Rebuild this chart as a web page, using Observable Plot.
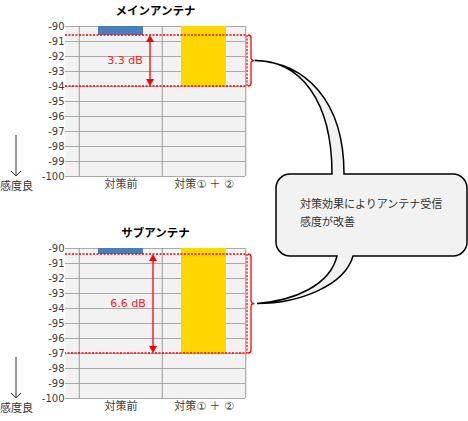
<!DOCTYPE html>
<html><head><meta charset="utf-8">
<script src="https://cdn.jsdelivr.net/npm/d3@7"></script>
<script src="https://cdn.jsdelivr.net/npm/@observablehq/plot@0.6"></script>
<style>
html,body{margin:0;padding:0;background:#fff;}
#wrap{position:relative;width:468px;height:421px;overflow:hidden;}
#wrap svg{position:absolute;left:0;}
</style></head><body><div id="wrap"></div>
<script>
// ---- data ----
const categories = ["対策前", "対策① ＋ ②"];
const panelTitles = ["メインアンテナ", "サブアンテナ"];
const mainValues = [-90.6, -94.0];
const subValues = [-90.4, -97.0];
const gainLabels = ["3.3 dB", "6.6 dB"];
const yTicks = [-90, -91, -92, -93, -94, -95, -96, -97, -98, -99, -100];
const yDomain = [-100, -90];
const barBase = -90;
const barColors = ["#4a7ebb", "#ffd700"];
const sensLabel = "感度良";
const calloutLines = ["対策効果によりアンテナ受信", "感度が改善"];

// ---- layout ----
const FONT = "'DejaVu Sans','Noto Sans CJK JP',sans-serif";
const panelTops = [0, 222];
const arrowOffsets = [7, 10];
const wrap = document.getElementById("wrap");

function panel(title, values) {
  const data = categories.map((c, i) => ({cat: c, value: values[i]}));
  const step = 83.5;
  return Plot.plot({
    width: 468, height: 196,
    marginTop: 26, marginBottom: 20, marginLeft: 65, marginRight: 223,
    style: {fontFamily: FONT, fontSize: "11px", color: "#404040", background: "none", overflow: "visible"},
    x: {domain: categories, range: [78, 245], paddingInner: 0.46, paddingOuter: 0.23},
    y: {domain: yDomain},
    color: {domain: categories, range: barColors},
    marks: [
      Plot.frame({fill: "#f2f2f2", stroke: null}),
      Plot.ruleY(yTicks, {stroke: "#aaa", strokeWidth: 1}),
      Plot.ruleX(categories, {x: d => d, dx: -step / 2, stroke: "#999"}),
      Plot.ruleX([categories[categories.length - 1]], {x: d => d, dx: step / 2, stroke: "#999"}),
      Plot.barY(data, {x: "cat", y1: barBase, y2: "value", fill: "cat"}),
      Plot.axisY({ticks: yTicks, tickSize: 0, tickPadding: 1, fontSize: 10, label: null, tickFormat: d => String(d)}),
      Plot.axisX({tickSize: 0, tickPadding: 4, fontSize: 11, label: null}),
      Plot.text([title], {frameAnchor: "top", dy: -20, fontWeight: "bold", fill: "#000", fontSize: 11.5})
    ]
  });
}

const plots = panelTitles.map((t, i) => {
  const p = panel(t, i === 0 ? mainValues : subValues);
  p.style.top = panelTops[i] + "px";
  wrap.appendChild(p);
  return p;
});

const ov = d3.select(wrap).append("svg")
  .attr("width", 468).attr("height", 421).style("top", "0px")
  .style("font-family", FONT).style("font-size", "11px");

const tips = [];
plots.forEach((p, i) => {
  const vals = i === 0 ? mainValues : subValues;
  const ys = p.scale("y"), xs = p.scale("x");
  const off = panelTops[i];
  const y = v => ys.apply(v) + off;
  const yb = y(vals[0]), ya = y(vals[1]);
  const xl = 65, xr = 247;
  // dotted bracket lines (top, right, bottom)
  ov.append("path").attr("d", `M${xl},${yb}L${xr},${yb}L${xr},${ya}L${xl},${ya}`)
    .attr("fill", "none").attr("stroke", "#ff0000").attr("stroke-width", 1.3).attr("stroke-dasharray", "2,1.5");
  // double arrow
  const ax = xs.apply(categories[0]) + xs.bandwidth + arrowOffsets[i];
  ov.append("line").attr("x1", ax).attr("x2", ax).attr("y1", yb + 6).attr("y2", ya - 6)
    .attr("stroke", "#ff0000").attr("stroke-width", 1.3);
  ov.append("path").attr("d", `M${ax},${yb}L${ax - 4},${yb + 7}L${ax + 4},${yb + 7}Z`).attr("fill", "#ff0000");
  ov.append("path").attr("d", `M${ax},${ya}L${ax - 4},${ya - 7}L${ax + 4},${ya - 7}Z`).attr("fill", "#ff0000");
  const mid = (yb + ya) / 2;
  ov.append("text").attr("x", ax - 25).attr("y", mid).attr("text-anchor", "middle")
    .attr("dominant-baseline", "middle").attr("fill", "#ff2020").text(gainLabels[i]);
  // brace
  const bx = 248, bm = 251, bt = 254.5;
  ov.append("path").attr("d",
    `M${bx},${yb}Q${bm},${yb} ${bm},${yb + 3}L${bm},${mid - 3}Q${bm},${mid} ${bt},${mid}` +
    `Q${bm},${mid} ${bm},${mid + 3}L${bm},${ya - 3}Q${bm},${ya} ${bx},${ya}`)
    .attr("fill", "none").attr("stroke", "#ff0000").attr("stroke-width", 1.3);
  tips.push([255 + i * 2, mid]);
  // sensitivity arrow
  const y100 = y(-100);
  ov.append("path").attr("d", `M16,${y100 - 41}L16,${y100}M11,${y100 - 5}L16,${y100}L21,${y100 - 5}`)
    .attr("fill", "none").attr("stroke", "#333").attr("stroke-width", 1);
  ov.append("text").attr("x", 0).attr("y", y100 + 11).attr("dominant-baseline", "middle")
    .attr("fill", "#333").text(sensLabel);
});

// callout
const [t1, t2] = tips;
const x0 = 276, x1 = 467, y0 = 174, y1 = 256, r = 14;
const d = `M${x0 + r},${y0}L332,${y0}` +
  `C332,100 300,${t1[1]} ${t1[0]},${t1[1]}` +
  `C305,${t1[1] + 2} 344,100 344,${y0}` +
  `L${x1 - r},${y0}A${r},${r} 0 0 1 ${x1},${y0 + r}L${x1},${y1 - r}A${r},${r} 0 0 1 ${x1 - r},${y1}` +
  `L353,${y1}C345,285 300,${t2[1]} ${t2[0]},${t2[1]}` +
  `C295,${t2[1] - 3} 330,285 337,${y1}` +
  `L${x0 + r},${y1}A${r},${r} 0 0 1 ${x0},${y1 - r}L${x0},${y0 + r}A${r},${r} 0 0 1 ${x0 + r},${y0}Z`;
ov.append("path").attr("d", d).attr("fill", "#f2f2f2").attr("stroke", "#000").attr("stroke-width", 1.5);
calloutLines.forEach((s, i) => {
  ov.append("text").attr("x", 300).attr("y", 205 + i * 18).attr("dominant-baseline", "middle")
    .attr("fill", "#333").text(s);
});
</script></body></html>
